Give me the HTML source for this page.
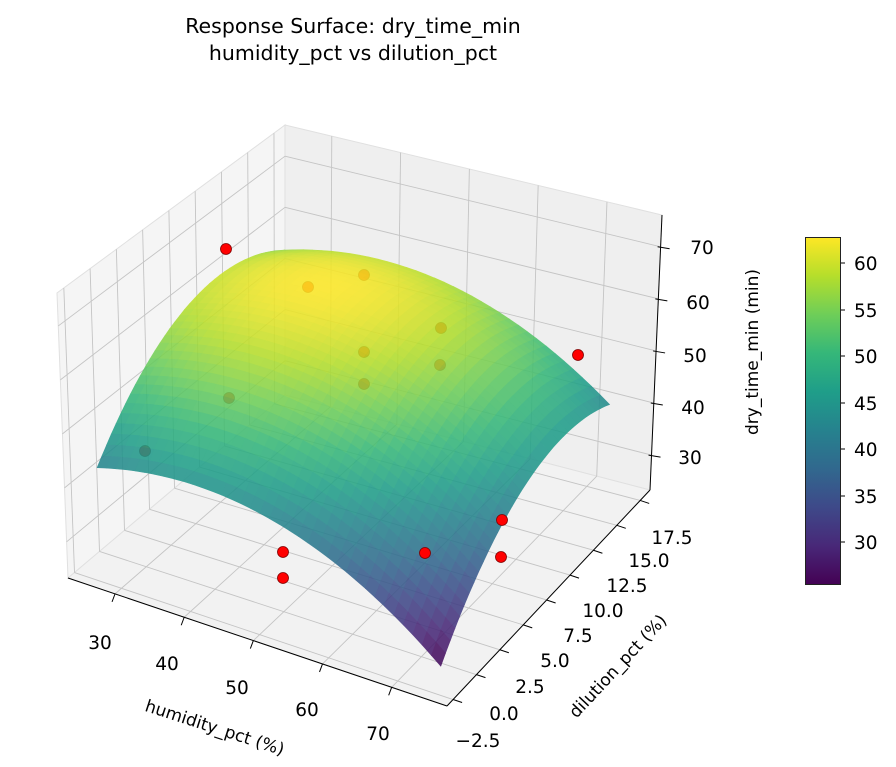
<!DOCTYPE html>
<html><head><meta charset="utf-8">
<style>
html,body{margin:0;padding:0;background:#fff;}
svg{display:block;font-family:"DejaVu Sans","Liberation Sans",sans-serif;}
</style></head>
<body>
<svg id="s" width="896" height="767" viewBox="0 0 896 767" xmlns="http://www.w3.org/2000/svg">
<defs>
<linearGradient id="vir" x1="0" y1="1" x2="0" y2="0">
<stop offset="0" stop-color="#440154"/><stop offset="0.111" stop-color="#482878"/>
<stop offset="0.222" stop-color="#3e4989"/><stop offset="0.333" stop-color="#31688e"/>
<stop offset="0.444" stop-color="#26828e"/><stop offset="0.556" stop-color="#1f9e89"/>
<stop offset="0.667" stop-color="#35b779"/><stop offset="0.778" stop-color="#6ece58"/>
<stop offset="0.889" stop-color="#b5de2b"/><stop offset="1" stop-color="#fde725"/>
</linearGradient>
</defs>
<g id="panes"></g>
<g id="grid" stroke="#c4c4c4" stroke-width="0.9" fill="none"></g>
<g id="back"></g>
<g id="surf" opacity="0.87"></g>
<g id="front"></g>
<g id="axes" stroke="#000" stroke-width="1" fill="none"></g>
<g font-size="20.5" text-anchor="middle" fill="#000">
<text x="353" y="33">Response Surface: dry_time_min</text>
<text x="353" y="60">humidity_pct vs dilution_pct</text>
</g>
<g font-size="18.5" text-anchor="middle" fill="#000">
<text x="100" y="649">30</text><text x="167" y="670">40</text><text x="237" y="694">50</text>
<text x="307" y="716">60</text><text x="378" y="740">70</text>
<text x="478" y="747">−2.5</text><text x="504" y="720">0.0</text><text x="530" y="693">2.5</text>
<text x="555" y="667">5.0</text><text x="578" y="642">7.5</text><text x="603" y="617">10.0</text>
<text x="627" y="592">12.5</text><text x="649" y="567">15.0</text><text x="672" y="544">17.5</text>
<text x="702" y="254">70</text><text x="698" y="309">60</text><text x="695" y="362">50</text>
<text x="693" y="414">40</text><text x="690" y="464">30</text>
</g>
<g font-size="17" fill="#000" text-anchor="middle">
<text transform="translate(213,733) rotate(18)">humidity_pct (%)</text>
<text transform="translate(622,670) rotate(-47)">dilution_pct (%)</text>
<text transform="translate(758,352) rotate(-90)">dry_time_min (min)</text>
</g>
<rect x="805.5" y="237.5" width="35" height="347" fill="url(#vir)" stroke="#222" stroke-width="1"/>
<g stroke="#000" stroke-width="1">
<line x1="841" y1="263" x2="845" y2="263"/><line x1="841" y1="310" x2="845" y2="310"/>
<line x1="841" y1="356" x2="845" y2="356"/><line x1="841" y1="403" x2="845" y2="403"/>
<line x1="841" y1="449" x2="845" y2="449"/><line x1="841" y1="496" x2="845" y2="496"/>
<line x1="841" y1="542" x2="845" y2="542"/>
</g>
<g font-size="18.5" fill="#000">
<text x="854" y="270">60</text><text x="854" y="317">55</text><text x="854" y="363">50</text>
<text x="854" y="410">45</text><text x="854" y="456">40</text><text x="854" y="503">35</text>
<text x="854" y="549">30</text>
</g>
</svg>
<script>
var NS="http://www.w3.org/2000/svg";
var F00=[68,578],F10=[447,706],F01=[285,395],F11=[650,490];
var T00=[57,293],T10=[452,410],T01=[285,125],T11=[662,215];
function bl(a,b,c,d,u,v){return [a[0]*(1-u)*(1-v)+b[0]*u*(1-v)+c[0]*(1-u)*v+d[0]*u*v,a[1]*(1-u)*(1-v)+b[1]*u*(1-v)+c[1]*(1-u)*v+d[1]*u*v];}
function P(u,v,w){var f=bl(F00,F10,F01,F11,u,v),t=bl(T00,T10,T01,T11,u,v);return [f[0]+(t[0]-f[0])*w,f[1]+(t[1]-f[1])*w];}
function el(tag,at,par){var e=document.createElementNS(NS,tag);for(var k in at)e.setAttribute(k,at[k]);document.getElementById(par).appendChild(e);return e;}
function pts(a){return a.map(function(p){return p[0].toFixed(1)+","+p[1].toFixed(1)}).join(" ");}
function line(a,b,par){el("line",{x1:a[0],y1:a[1],x2:b[0],y2:b[1]},par);}
el("polygon",{points:pts([P(0,0,0),P(0,1,0),P(0,1,1),P(0,0,1)]),fill:"#f5f5f5",stroke:"#e0e0e0"},"panes");
el("polygon",{points:pts([P(0,1,0),P(1,1,0),P(1,1,1),P(0,1,1)]),fill:"#efefef",stroke:"#e0e0e0"},"panes");
el("polygon",{points:pts([P(0,0,0),P(1,0,0),P(1,1,0),P(0,1,0)]),fill:"#f2f2f2",stroke:"#e0e0e0"},"panes");
var uh=function(h){return (h-23.2)/54.8},vd=function(d){return (d+3.15)/21.7},wz=function(z){return (z-23.3)/52.8};
[30,40,50,60,70].forEach(function(h){var u=uh(h);line(P(u,0,0),P(u,1,0),"grid");line(P(u,1,0),P(u,1,1),"grid");});
[-2.5,0,2.5,5,7.5,10,12.5,15,17.5].forEach(function(d){var v=vd(d);line(P(0,v,0),P(1,v,0),"grid");line(P(0,v,0),P(0,v,1),"grid");});
[30,40,50,60,70].forEach(function(z){var w=wz(z);line(P(0,0,w),P(0,1,w),"grid");line(P(0,1,w),P(1,1,w),"grid");});
line(F00,F10,"axes");line(F10,F11,"axes");line(F11,T11,"axes");
[30,40,50,60,70].forEach(function(h){var a=P(uh(h),0,0);line(a,[a[0]-3,a[1]+8],"axes");});
[-2.5,0,2.5,5,7.5,10,12.5,15,17.5].forEach(function(d){var a=P(1,vd(d),0);line(a,[a[0]+9,a[1]+3],"axes");});
[30,40,50,60,70].forEach(function(z){var a=P(1,1,wz(z));line([a[0]-3,a[1]],[a[0]+9,a[1]+2],"axes");});
var V=["#440154","#482878","#3e4989","#31688e","#26828e","#1f9e89","#35b779","#6ece58","#b5de2b","#fde725"].map(function(h){return [parseInt(h.substr(1,2),16),parseInt(h.substr(3,2),16),parseInt(h.substr(5,2),16)]});
function vir(x,sh){x=Math.max(0,Math.min(1,x))*9;var i=Math.min(8,Math.floor(x)),f=x-i;var c=[0,1,2].map(function(k){return Math.max(0,Math.min(255,Math.round((V[i][k]*(1-f)+V[i+1][k]*f)*sh)))});return "rgb("+c.join(",")+")";}
function Z(s,t){return 42+18.75*s+51.25*t-34.75*s*s-37.25*t*t+3*s*t;}
function S(s,t){return P(0.04+0.9*s,0.08+0.81*t,wz(Z(s,t)));}
var N=36,q=[];
for(var i=0;i<N;i++)for(var j=0;j<N;j++){var s0=i/N,s1=(i+1)/N,t0=j/N,t1=(j+1)/N;q.push({k:(s0+s1)/2-(t0+t1)/2,s:(s0+s1)/2,t:(t0+t1)/2,p:[S(s0,t0),S(s1,t0),S(s1,t1),S(s0,t1)]});}
q.sort(function(a,b){return a.k-b.k});
q.forEach(function(o){var z=Z(o.s,o.t);var c=vir((z-26.1)/(62.8-26.1),1);el("polygon",{points:pts(o.p),fill:c,stroke:c,"stroke-width":"0.6"},"surf");});
[[308,287],[364,275],[441,328],[364,352],[440,365],[364,384],[229,398],[145,451]].forEach(function(p){el("circle",{cx:p[0],cy:p[1],r:5.5,fill:"#ff0000",stroke:"#800000","stroke-width":"0.8"},"back");});
[[226,249],[578,355],[283,552],[283,578],[425,553],[502,520],[501,557]].forEach(function(p){el("circle",{cx:p[0],cy:p[1],r:5.5,fill:"#ff0000",stroke:"#800000","stroke-width":"0.8"},"front");});
</script>
</body></html>
